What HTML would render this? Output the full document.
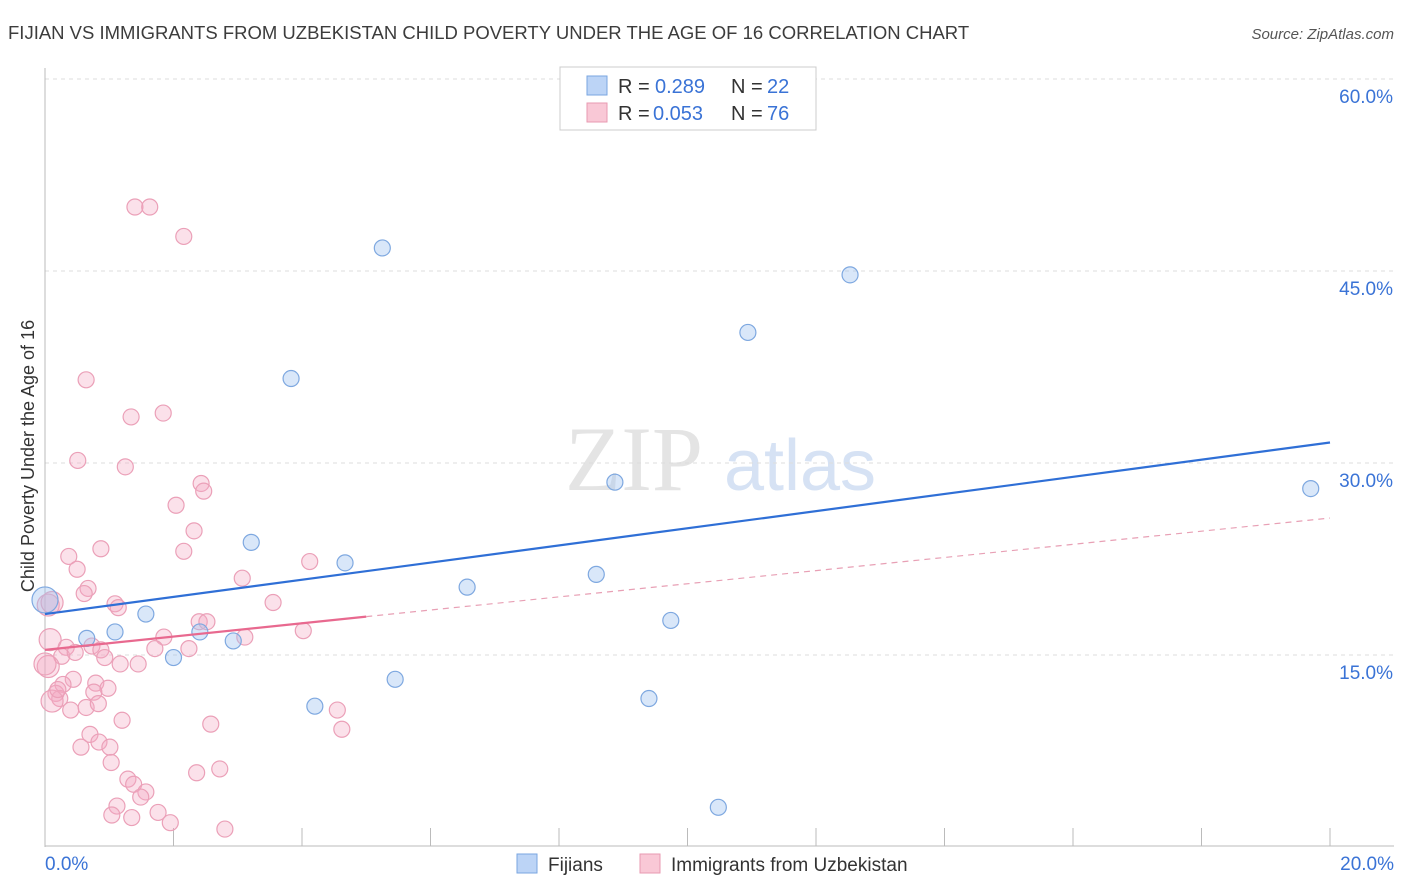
<!DOCTYPE html>
<html><head><meta charset="utf-8">
<style>
body{margin:0;background:#fff;font-family:"Liberation Sans",sans-serif;}
#wrap{position:relative;width:1406px;height:892px;overflow:hidden;}
</style></head>
<body>
<div id="wrap">
<svg id="svg" width="1406" height="892" xmlns="http://www.w3.org/2000/svg">
<text x="8" y="39" font-size="18.5" fill="#3c3c3c">FIJIAN VS IMMIGRANTS FROM UZBEKISTAN CHILD POVERTY UNDER THE AGE OF 16 CORRELATION CHART</text>
<text x="1394" y="39" font-size="15" fill="#555" font-style="italic" text-anchor="end">Source: ZipAtlas.com</text>
<text x="634" y="490" font-size="92" fill="#e4e4e4" font-family="Liberation Serif" text-anchor="middle">ZIP</text>
<text x="800" y="490" font-size="72" fill="#d6e2f4" text-anchor="middle">atlas</text>
<g id="grid"></g><g id="axes"></g><g id="pts"></g><g id="lines"></g>
<text transform="translate(34,456) rotate(-90)" font-size="18" fill="#333" text-anchor="middle">Child Poverty Under the Age of 16</text>
<g>
<rect x="560" y="67" width="256" height="63" fill="#fff" stroke="#ccc"/>
<rect x="587" y="76" width="20" height="19" fill="#bcd4f6" stroke="#7aa6e0"/>
<text x="618" y="93" font-size="20" fill="#333">R = </text><text x="655" y="93" font-size="20" fill="#3a73d6">0.289</text>
<text x="731" y="93" font-size="20" fill="#333">N = </text><text x="767" y="93" font-size="20" fill="#3a73d6">22</text>
<rect x="587" y="103" width="20" height="19" fill="#f9c8d6" stroke="#e89ab1"/>
<text x="618" y="120" font-size="20" fill="#333">R = </text><text x="653" y="120" font-size="20" fill="#3a73d6">0.053</text>
<text x="731" y="120" font-size="20" fill="#333">N = </text><text x="767" y="120" font-size="20" fill="#3a73d6">76</text>
</g>
<g>
<rect x="517" y="854" width="20" height="19" fill="#bcd4f6" stroke="#7aa6e0"/>
<text x="548" y="871" font-size="19" fill="#333">Fijians</text>
<rect x="640" y="854" width="20" height="19" fill="#f9c8d6" stroke="#e89ab1"/>
<text x="671" y="871" font-size="19" fill="#333">Immigrants from Uzbekistan</text>
</g>
</svg>
</div>
<script>
const xTickVals=[0,2,4,6,8,10,12,14,16,18,20];
const yTickVals=[15,30,45,60];
const fijiX=[0,0.65,1.09,1.57,2.0,2.41,2.93,3.21,3.83,4.2,4.67,5.25,5.45,6.57,8.58,8.87,9.4,9.74,10.48,10.94,12.53,19.7];
const fijiY=[19.3,16.3,16.8,18.2,14.8,16.8,16.1,23.8,36.6,11.0,22.2,46.8,13.1,20.3,21.3,28.5,11.6,17.7,3.1,40.2,44.7,28.0];
const uzbX=[1.4,1.63,2.16,0.64,1.34,1.84,0.51,1.25,2.43,2.47,2.04,2.32,0.37,0.87,2.16,0.5,0.67,0.61,3.07,4.12,1.09,1.14,3.55,0.05,0.11,2.4,2.52,4.02,1.85,3.11,0.08,0.33,0.73,0.87,1.71,2.24,0.26,0.47,0.93,1.45,1.17,0.05,0.44,0.28,0.79,0.98,0.76,0.17,0.23,0.11,0.40,0.64,0.83,4.55,1.2,2.58,4.62,0.7,0.84,0.56,1.01,1.03,2.72,2.36,1.29,1.38,1.57,1.49,1.12,1.04,1.35,1.76,1.95,2.8,0.2,0];
const uzbY=[50.0,50.0,47.7,36.5,33.6,33.9,30.2,29.7,28.4,27.8,26.7,24.7,22.7,23.3,23.1,21.7,20.2,19.8,21.0,22.3,19.0,18.7,19.1,18.9,19.1,17.6,17.6,16.9,16.4,16.4,16.2,15.6,15.7,15.4,15.5,15.5,14.9,15.2,14.8,14.3,14.3,14.1,13.1,12.7,12.8,12.4,12.1,12.0,11.6,11.4,10.7,10.9,11.2,10.7,9.9,9.6,9.2,8.8,8.2,7.8,7.8,6.6,6.1,5.8,5.3,4.9,4.3,3.9,3.2,2.5,2.3,2.7,1.9,1.4,12.3,14.3];
const blueLine=[[0,18.2],[20,31.6]];
const pinkLine=[[0,15.4],[5.0,18.0],[20,25.7]];
const X=v=>45+v*64.25, Y=v=>847-v*12.8;
const NS="http://www.w3.org/2000/svg";
function mk(p,t,a){const e=document.createElementNS(NS,t);for(const k in a)e.setAttribute(k,a[k]);p.appendChild(e);return e;}
const grid=document.getElementById('grid'),axes=document.getElementById('axes'),pts=document.getElementById('pts'),lines=document.getElementById('lines');
yTickVals.forEach(v=>{
 const l=mk(grid,'line',{x1:45,x2:1394,y1:Y(v),y2:Y(v),stroke:'#ddd','stroke-dasharray':'4,4'});
 
 
 const t=mk(axes,'text',{x:1393,y:Y(v)+24,'font-size':19,fill:'#3a73d6','text-anchor':'end'});t.textContent=v.toFixed(1)+'%';
 
 
});
mk(axes,'line',{x1:45,x2:45,y1:68,y2:847,stroke:'#bbb'});
mk(axes,'line',{x1:45,x2:1394,y1:846,y2:846,stroke:'#bbb'});
xTickVals.forEach(v=>{const l=mk(axes,'line',{x1:X(v),x2:X(v),y1:828,y2:846,stroke:'#bbb'});
 
 });
[[0,'0.0%','start',45],[20,'20.0%','end',1394]].forEach(a=>{const t=mk(axes,'text',{x:a[3],y:870,'font-size':19,fill:'#3a73d6','text-anchor':a[2]});t.textContent=a[1];
 
 });
uzbX.forEach((v,i)=>{const c=mk(pts,'circle',{cx:X(v),cy:Y(uzbY[i]),r:(v<0.15?11:8),fill:'rgba(244,170,195,0.35)',stroke:'#eba0b8','stroke-width':1.2});
 
 });
fijiX.forEach((v,i)=>{const c=mk(pts,'circle',{cx:X(v),cy:Y(fijiY[i]),r:(v<0.15?13:8),fill:'rgba(160,195,240,0.4)',stroke:'#7ea8e0','stroke-width':1.2});
 
 });
const bl=mk(lines,'line',{x1:X(blueLine[0][0]),y1:Y(blueLine[0][1]),x2:X(blueLine[1][0]),y2:Y(blueLine[1][1]),stroke:'#2f6fd6','stroke-width':2.2});


const pl=mk(lines,'line',{x1:X(pinkLine[0][0]),y1:Y(pinkLine[0][1]),x2:X(pinkLine[1][0]),y2:Y(pinkLine[1][1]),stroke:'#e8698f','stroke-width':2.2});


const pd=mk(lines,'line',{x1:X(pinkLine[1][0]),y1:Y(pinkLine[1][1]),x2:X(pinkLine[2][0]),y2:Y(pinkLine[2][1]),stroke:'#e8a0b5','stroke-width':1.2,'stroke-dasharray':'6,5'});


</script>
</body></html>
